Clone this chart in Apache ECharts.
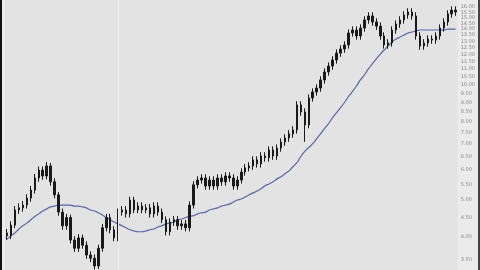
<!DOCTYPE html>
<html><head><meta charset="utf-8">
<script src="https://cdn.jsdelivr.net/npm/echarts@6/dist/echarts.min.js"></script>
<style>
html,body{margin:0;padding:0;background:#ebebeb;}
#wrap{width:476px;height:270px;border-left:2px solid #111;border-right:2px solid #444;}
#c{width:476px;height:270px;}
</style></head>
<body><div id="wrap"><div id="c"></div></div>
<script>
// OHLC bars: [open, close, low, high]
const ohlc = [
[4.10,4.03,3.93,4.20],[4.03,4.30,3.95,4.40],[4.30,4.71,4.22,4.82],[4.71,4.77,4.60,4.90],
[4.77,4.85,4.66,4.97],[4.85,5.06,4.75,5.18],[5.06,5.31,4.95,5.44],[5.31,5.71,5.20,5.85],
[5.71,5.99,5.58,6.12],[5.99,5.78,5.65,6.12],[5.78,6.14,5.66,6.28],[6.14,5.58,5.45,6.25],
[5.58,5.16,5.05,5.70],[5.16,4.65,4.55,5.25],[4.65,4.28,4.18,4.75],[4.28,4.50,4.18,4.60],
[4.50,3.93,3.85,4.58],[3.93,3.74,3.66,4.02],[3.74,3.98,3.66,4.07],[3.98,3.81,3.73,4.06],
[3.81,3.59,3.51,3.90],[3.59,3.52,3.44,3.67],[3.52,3.36,3.29,3.60],[3.36,3.74,3.30,3.82],
[3.74,4.23,3.66,4.33],[4.23,4.50,4.14,4.60],[4.50,4.18,4.09,4.60],[4.18,3.98,3.90,4.27],
[3.98,4.65,3.90,4.75],[4.65,4.71,4.55,4.82],[4.71,4.60,4.50,4.82],[4.60,5.00,4.50,5.10],
[5.00,4.71,4.62,5.10],[4.71,4.82,4.62,4.93],[4.82,4.71,4.62,4.93],[4.71,4.77,4.62,4.88],
[4.77,4.60,4.50,4.88],[4.60,4.82,4.50,4.93],[4.82,4.65,4.55,4.93],[4.65,4.44,4.35,4.75],
[4.44,4.13,4.04,4.53],[4.13,4.38,4.04,4.48],[4.38,4.44,4.28,4.54],[4.44,4.28,4.18,4.54],
[4.28,4.33,4.18,4.43],[4.33,4.23,4.14,4.43],[4.23,4.85,4.14,4.96],[4.85,5.48,4.75,5.60],
[5.48,5.64,5.36,5.77],[5.64,5.71,5.52,5.84],[5.71,5.44,5.32,5.84],[5.44,5.64,5.32,5.77],
[5.64,5.44,5.32,5.77],[5.44,5.71,5.32,5.84],[5.71,5.58,5.45,5.84],[5.58,5.78,5.45,5.91],
[5.78,5.71,5.58,5.91],[5.71,5.44,5.32,5.84],[5.44,5.64,5.32,5.77],[5.64,5.92,5.52,6.05],
[5.92,6.07,5.79,6.21],[6.07,6.14,5.94,6.28],[6.14,6.37,6.00,6.51],[6.37,6.22,6.08,6.51],
[6.22,6.52,6.08,6.67],[6.52,6.45,6.30,6.67],[6.45,6.76,6.30,6.91],[6.76,6.52,6.37,6.91],
[6.52,6.84,6.37,6.99],[6.84,7.09,6.69,7.25],[7.09,7.27,6.93,7.43],[7.27,7.45,7.10,7.62],
[7.45,7.63,7.28,7.80],[7.63,8.87,7.46,9.07],[8.87,8.50,8.31,9.07],[8.50,7.86,7.10,8.69],
[7.86,9.25,7.70,9.45],[9.25,9.59,9.05,9.80],[9.59,9.82,9.38,10.04],[9.82,10.31,9.60,10.54],
[10.31,10.82,10.08,11.06],[10.82,11.21,10.58,11.46],[11.21,11.63,10.96,11.89],[11.63,12.12,11.37,12.39],
[12.12,12.42,11.85,12.70],[12.42,12.73,12.14,13.01],[12.73,13.68,12.45,13.98],[13.68,13.93,13.38,14.24],
[13.93,13.44,13.14,14.24],[13.44,14.10,13.14,14.41],[14.10,14.80,13.79,15.13],[14.80,15.16,14.47,15.50],
[15.16,14.62,14.30,15.50],[14.62,14.26,13.94,14.95],[14.26,13.44,13.14,14.58],[13.44,12.73,12.45,13.74],
[12.73,12.89,12.45,13.18],[12.89,13.93,12.60,14.24],[13.93,14.44,13.62,14.76],[14.44,14.80,14.12,15.13],
[14.80,15.25,14.47,15.59],[15.25,15.53,14.91,15.88],[15.53,15.16,14.82,15.88],[15.16,13.44,13.14,15.50],
[13.44,12.65,12.37,13.74],[12.65,12.89,12.37,13.18],[12.89,13.19,12.60,13.49],[13.19,13.11,12.82,13.49],
[13.11,13.44,12.82,13.74],[13.44,14.10,13.14,14.41],[14.10,14.62,13.79,14.95],[14.62,15.35,14.30,15.69],
[15.35,15.71,15.01,16.06],[15.71,15.53,15.18,16.06]
];
// moving average
const ma = [
3.95,4.03,4.10,4.20,4.28,4.35,4.44,4.53,4.60,4.68,4.74,4.80,4.82,4.85,4.85,4.85,4.85,4.82,4.82,4.80,
4.77,4.71,4.68,4.63,4.57,4.50,4.44,4.38,4.33,4.28,4.23,4.18,4.15,4.13,4.13,4.15,4.18,4.20,4.25,4.28,
4.33,4.35,4.38,4.44,4.46,4.50,4.53,4.55,4.60,4.63,4.65,4.71,4.74,4.77,4.82,4.85,4.88,4.94,5.00,5.03,
5.09,5.16,5.22,5.28,5.35,5.45,5.51,5.58,5.68,5.75,5.86,5.96,6.11,6.26,6.50,6.70,6.86,7.02,7.24,7.46,
7.70,7.93,8.22,8.47,8.73,9.00,9.33,9.62,9.94,10.31,10.62,11.02,11.35,11.70,12.05,12.35,12.65,12.97,13.19,13.35,
13.52,13.68,13.76,13.85,13.93,13.93,13.93,13.93,13.93,13.93,13.93,14.01,14.01,14.01
];
const categories = ohlc.map((d, i) => String(i + 1));
const yTicks = [3.5,4,4.5,5,5.5,6,6.5,7,7.5,8,8.5,9,9.5,10,10.5,11,11.5,12,12.5,13,13.5,14,14.5,15,15.5,16];
const gridLineAt = '29';

const chart = echarts.init(document.getElementById('c'));
chart.setOption({
  animation: false,
  backgroundColor: '#ebebeb',
  grid: {left: 3, right: 18, top: 0, bottom: 0, show: true, backgroundColor: '#e3e3e3', borderWidth: 0},
  xAxis: {type: 'category', data: categories, show: false, boundaryGap: true},
  yAxis: {
    type: 'log', logBase: Math.E, position: 'right', min: 3.28, max: 16.69,
    axisLine: {show: false}, axisTick: {show: false}, splitLine: {show: false},
    axisLabel: {customValues: yTicks, fontSize: 5, color: '#888', margin: 3,
      fontFamily: 'DejaVu Sans', formatter: v => Number(v).toFixed(2)}
  },
  series: [
    {type: 'candlestick', data: ohlc, barWidth: 2,
     itemStyle: {color: '#1a1a1a', color0: '#1a1a1a', borderColor: '#1a1a1a', borderColor0: '#1a1a1a', borderWidth: 1},
     markLine: {silent: true, symbol: 'none', label: {show: false},
       lineStyle: {color: '#ececec', width: 1, type: 'solid'},
       data: [{xAxis: gridLineAt}]}},
    {type: 'line', data: ma, showSymbol: false, smooth: true,
     lineStyle: {color: '#5566aa', width: 1.2}, z: 1}
  ]
});
</script></body></html>
